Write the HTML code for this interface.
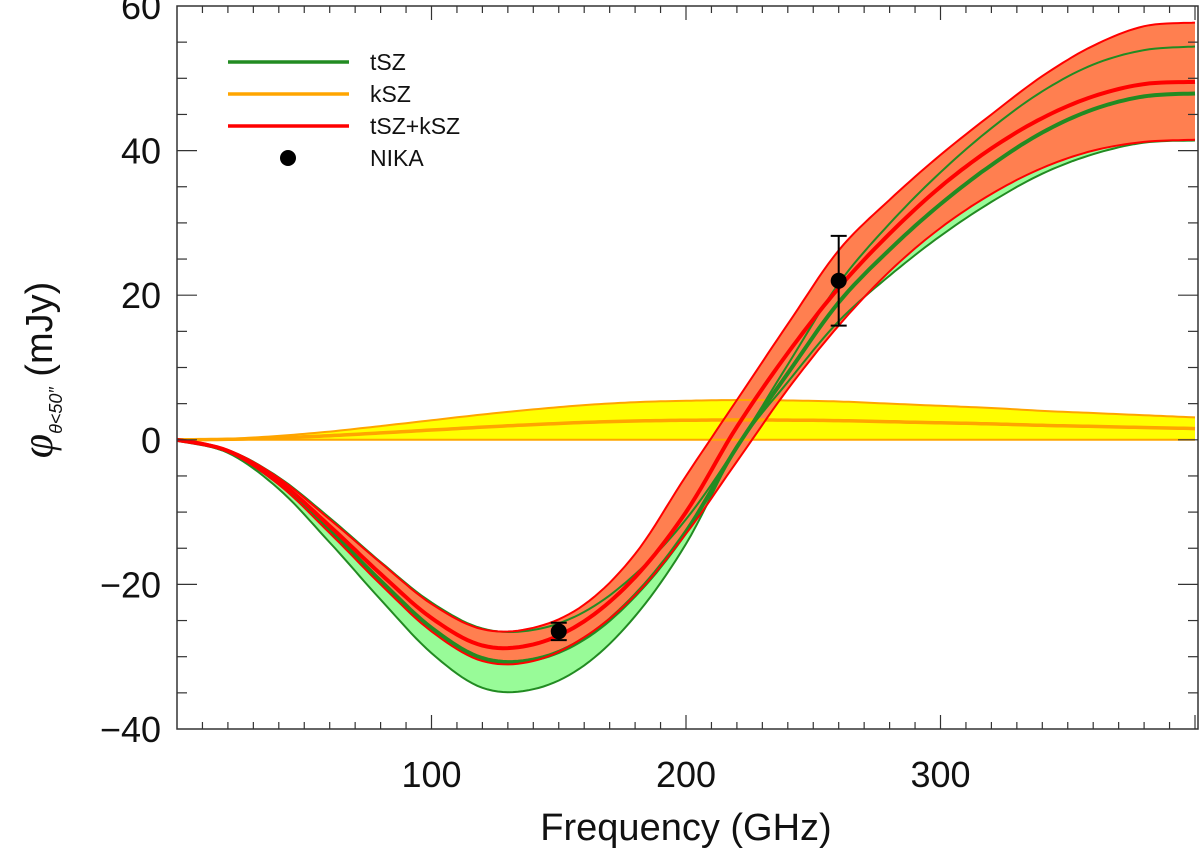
<!DOCTYPE html>
<html><head><meta charset="utf-8"><style>
html,body{margin:0;padding:0;background:#fff;}
svg{display:block;font-family:"Liberation Sans","DejaVu Sans",sans-serif;}
</style></head><body>
<svg id="chart" width="1200" height="854" viewBox="0 0 1200 854">
<g id="bands"></g><g id="lines"></g><g id="axes"></g><g id="pts"></g><g id="legend"></g>
</svg>
<script>
const freqs=[0,20,40,60,80,100,120,140,160,180,200,220,240,260,280,300,320,340,360,380,400];
const tsz=[0,-1.6,-6,-12.5,-19.5,-26,-30.2,-30.4,-27.5,-21.5,-12.7,-1,9.2,19,26.3,32.6,38,42.5,45.7,47.5,47.9];
const tszHi=[0,-1.4,-5.2,-10.8,-16.9,-22.5,-26.1,-26.3,-23.8,-18.6,-11,-0.9,10.4,21.6,29.9,37,43.1,48.2,51.9,53.9,54.4];
const tszLo=[0,-1.8,-6.8,-14.2,-22.1,-29.5,-34.3,-34.5,-31.2,-24.4,-14.4,-1.1,8,16.4,22.7,28.2,32.9,36.8,39.5,41.1,41.4];
const ksz=[0,0.07,0.27,0.57,0.95,1.35,1.75,2.1,2.4,2.6,2.7,2.75,2.72,2.65,2.5,2.35,2.2,2.0,1.85,1.7,1.55];
const kszHi=[0,0.14,0.54,1.14,1.9,2.7,3.5,4.2,4.8,5.2,5.4,5.5,5.44,5.3,5.0,4.7,4.4,4.0,3.7,3.4,3.1];
const kszLo=[0,0,0,0,0,0,0,0,0,0,0,0,0,0,0,0,0,0,0,0,0];
const tot=[0,-1.53,-5.73,-11.93,-18.55,-24.65,-28.45,-28.3,-25.1,-19,-10,1.8,12,21,28.5,35,40.3,44.5,47.5,49.2,49.5];
const totHi=[0,-1.4,-5.3,-11,-17,-22.7,-26.2,-26,-22.8,-15.8,-5,5.5,16,26.2,33.2,39.4,45,50.3,54.5,57.2,57.7];
const totLo=[0,-1.65,-6.2,-12.9,-20,-26.5,-30.6,-30.6,-27.3,-21.5,-13,-3,7,15.8,23.3,29.3,34,37.6,40,41.2,41.5];
const nikaF=[150,260];
const nikaV=[-26.5,22];
const nikaE=[1.2,6.2];
const xTicks=[100,200,300];
const yTicks=[-40,-20,0,20,40,60];

const X0=177,X1=1198,Y0=6,Y1=729,XMAX=(X1-X0)/2.545,YMIN=-40,YMAX=60;
const sx=v=>X0+v/XMAX*(X1-X0);
const sy=v=>Y1-(v-YMIN)/(YMAX-YMIN)*(Y1-Y0);
const NS='http://www.w3.org/2000/svg';
function mk(tag,attrs,parent){const e=document.createElementNS(NS,tag);for(const k in attrs)e.setAttribute(k,attrs[k]);parent.appendChild(e);return e;}
function pts(vals){const p=[];for(let i=0;i<freqs.length;i++){p.push([sx(freqs[i]),sy(vals[i])]);}return p;}
function dense(p){const out=[];for(let i=0;i<p.length-1;i++){const p0=p[Math.max(0,i-1)],p1=p[i],p2=p[i+1],p3=p[Math.min(p.length-1,i+2)];for(let s=0;s<10;s++){const t=s/10,t2=t*t,t3=t2*t;const x=0.5*((2*p1[0])+(-p0[0]+p2[0])*t+(2*p0[0]-5*p1[0]+4*p2[0]-p3[0])*t2+(-p0[0]+3*p1[0]-3*p2[0]+p3[0])*t3);const y=0.5*((2*p1[1])+(-p0[1]+p2[1])*t+(2*p0[1]-5*p1[1]+4*p2[1]-p3[1])*t2+(-p0[1]+3*p1[1]-3*p2[1]+p3[1])*t3);if(x<=X1)out.push([x,y]);}}const l=p[p.length-1];if(l[0]<=X1)out.push(l);return out;}
function pathOf(vals){return dense(pts(vals)).map((q,i)=>(i?'L':'M')+q[0].toFixed(1)+','+q[1].toFixed(1)).join('');}
function bandOf(lo,hi){const a=dense(pts(hi)),b=dense(pts(lo)).reverse();return a.concat(b).map((q,i)=>(i?'L':'M')+q[0].toFixed(1)+','+q[1].toFixed(1)).join('')+'Z';}

const bands=document.getElementById('bands'),lines=document.getElementById('lines');
let e;
e=mk('path',{d:bandOf(tszLo,tszHi),fill:'#98fb98',stroke:'none'},bands);


e=mk('path',{d:bandOf(kszLo,kszHi),fill:'#ffff00',stroke:'none'},bands);


e=mk('line',{x1:X0,y1:sy(0),x2:X1,y2:sy(0),stroke:'#555',"stroke-width":1,"stroke-dasharray":'12,8'},bands);


e=mk('path',{d:bandOf(totLo,totHi),fill:'#ff7f50',stroke:'none'},bands);



const series=[[kszHi,'#ffa500',2,'ksz-upper-line'],[kszLo,'#ffa500',2,'ksz-lower-line'],[ksz,'#ffa500',3.5,'ksz-line'],
[tszHi,'#228b22',2,'tsz-upper-line'],[tszLo,'#228b22',2,'tsz-lower-line'],[tsz,'#228b22',4,'tsz-line'],
[totHi,'#ff0000',2,'total-upper-line'],[totLo,'#ff0000',2,'total-lower-line'],[tot,'#ff0000',4,'total-line']];
for(const s of series){e=mk('path',{d:pathOf(s[0]),fill:'none',stroke:s[1],"stroke-width":s[2]},lines);

}

const axes=document.getElementById('axes');
e=mk('rect',{x:X0,y:Y0,width:X1-X0,height:Y1-Y0,fill:'none',stroke:'#333',"stroke-width":1.5},axes);


for(let f=10;f<XMAX;f+=10){const maj=f%100===0,L=maj?14:7,x=sx(f);
mk('line',{x1:x,y1:Y1,x2:x,y2:Y1-L,stroke:'#333',"stroke-width":1.2},axes);
mk('line',{x1:x,y1:Y0,x2:x,y2:Y0+L,stroke:'#333',"stroke-width":1.2},axes);}
for(let v=-35;v<60;v+=5){const maj=v%20===0,L=maj?20:10,y=sy(v);
mk('line',{x1:X0,y1:y,x2:X0+L,y2:y,stroke:'#333',"stroke-width":1.2},axes);
mk('line',{x1:X1,y1:y,x2:X1-L,y2:y,stroke:'#333',"stroke-width":1.2},axes);}
for(const t of xTicks){e=mk('text',{x:sx(t),y:787,"text-anchor":'middle',"font-size":36,fill:'#111'},axes);e.textContent=t;

}
for(const t of yTicks){e=mk('text',{x:161,y:sy(t)+13,"text-anchor":'end',"font-size":36,fill:'#111'},axes);e.textContent=(t<0?'\u2212':'')+Math.abs(t);

}
e=mk('text',{x:686,y:840,"text-anchor":'middle',"font-size":38,fill:'#111'},axes);e.textContent='Frequency (GHz)';


e=mk('text',{x:0,y:0,transform:'translate(52,370) rotate(-90)',"text-anchor":'middle',"font-size":38,fill:'#111'},axes);
e.innerHTML='<tspan font-style="italic" font-family="Liberation Serif, serif" font-size="44">\u03c6</tspan><tspan font-size="18" dy="10" font-style="italic">\u03b8&lt;50\u2033</tspan><tspan dy="-10">  (mJy)</tspan>';



const P=document.getElementById('pts');
for(let i=0;i<nikaF.length;i++){const x=sx(nikaF[i]),y=sy(nikaV[i]),yh=sy(nikaV[i]+nikaE[i]),yl=sy(nikaV[i]-nikaE[i]);
e=mk('path',{d:`M${x},${yh}L${x},${yl}M${x-8},${yh}L${x+8},${yh}M${x-8},${yl}L${x+8},${yl}`,stroke:'#000',"stroke-width":2,fill:'none'},P);


e=mk('circle',{cx:x,cy:y,r:8,fill:'#000'},P);

}

const Lg=document.getElementById('legend');
const leg=[['tSZ','#228b22'],['kSZ','#ffa500'],['tSZ+kSZ','#ff0000']];
leg.forEach((l,i)=>{const y=62+i*32;
e=mk('line',{x1:228,y1:y,x2:349,y2:y,stroke:l[1],"stroke-width":3.5},Lg);


e=mk('text',{x:370,y:y+8,"font-size":23,fill:'#111'},Lg);e.textContent=l[0];

});
e=mk('circle',{cx:288,cy:158,r:8,fill:'#000'},Lg);


e=mk('text',{x:370,y:166,"font-size":23,fill:'#111'},Lg);e.textContent='NIKA';


</script>
</body></html>
